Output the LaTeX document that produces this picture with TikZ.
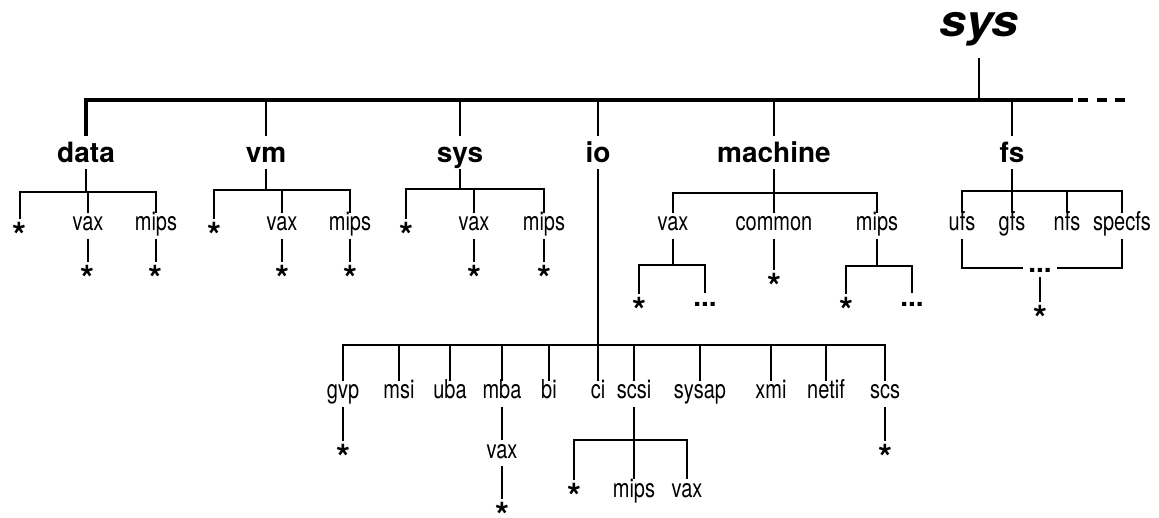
\documentclass[tikz,border=0pt]{standalone}
\usepackage{fontspec}
\setmainfont{TeX Gyre Heros}
\usepackage{graphicx}
\newcommand\tall[1]{\scalebox{1}[1.3]{#1}}
\newcommand\starglyph{\raisebox{-0.387em}[0.331em][0pt]{*}}
\begin{document}
\begin{tikzpicture}[x=1pt,y=-1pt,
  rootlabel/.style={font=\fontsize{44}{44}\selectfont\bfseries\itshape, anchor=base, inner sep=0pt, text depth=21pt},
  dirlabel/.style={font=\fontsize{28}{28}\selectfont\bfseries, anchor=base, inner sep=0pt, text height=27pt, text depth=6pt},
  sublabel/.style={font=\fontsize{20}{20}\selectfont, anchor=base, inner sep=0pt, text height=18pt, text depth=8pt},
  starlabel/.style={font=\fontsize{36}{36}\selectfont\bfseries, anchor=north, inner sep=0pt, inner ysep=3pt},
  morelabel/.style={font=\fontsize{28}{28}\selectfont\bfseries, anchor=base, inner sep=0pt, text height=14pt, text depth=0pt},
  link/.style={line width=1.9pt},
  stem/.style={line width=2.4pt},
  trunk/.style={line width=3.3pt}]
\useasboundingbox (0,0) rectangle (1159,518);

% root
\node[rootlabel] (root) at (979,37) {\scalebox{1.1}[1]{sys}};
\coordinate (mainend) at (1073,100);
\coordinate (dashend) at (1127,100);

% level 1
\node[dirlabel] (data) at (86,163) {data};
\node[dirlabel] (vm) at (266,163) {vm};
\node[dirlabel] (sys) at (460,163) {sys};
\node[dirlabel] (io) at (598,163) {io};
\node[dirlabel] (machine) at (774,163) {machine};
\node[dirlabel] (fs) at (1012,163) {fs};

\draw[trunk] (data.north) |- (mainend);
\draw[trunk, dash pattern=on 10pt off 8.5pt] ([xshift=5pt]mainend) -- (dashend);
\draw[link] (root.south) -- (root.south |- mainend);
\foreach \n in {vm,sys,io,machine,fs}
  \draw[stem] (\n.north) -- (\n.north |- mainend);

% data subtree
\coordinate (bdata) at (0,192);
\node[starlabel] (dstar) at (20,219) {\starglyph};
\node[sublabel] (dvax) at (88,231) {\tall{vax}};
\node[sublabel] (dmips) at (156,231) {\tall{mips}};
\node[starlabel] (dvaxs) at (88,262) {\starglyph};
\node[starlabel] (dmipss) at (156,262) {\starglyph};
\draw[link] (data.south) -- (data.south |- bdata);
\draw[link] (dstar.north) -- (dstar.north |- bdata) -| (dmips.north);
\draw[link] (dvax.north) -- (dvax.north |- bdata);
\draw[link] (dvax.south) -- (dvaxs.north);
\draw[link] (dmips.south) -- (dmipss.north);

% vm subtree
\coordinate (bvm) at (0,190);
\node[starlabel] (vstar) at (214,219) {\starglyph};
\node[sublabel] (vvax) at (282,231) {\tall{vax}};
\node[sublabel] (vmips) at (350,231) {\tall{mips}};
\node[starlabel] (vvaxs) at (282,262) {\starglyph};
\node[starlabel] (vmipss) at (350,262) {\starglyph};
\draw[link] (vm.south) -- (vm.south |- bvm);
\draw[link] (vstar.north) -- (vstar.north |- bvm) -| (vmips.north);
\draw[link] (vvax.north) -- (vvax.north |- bvm);
\draw[link] (vvax.south) -- (vvaxs.north);
\draw[link] (vmips.south) -- (vmipss.north);

% sys subtree
\coordinate (bsys) at (0,189);
\node[starlabel] (sstar) at (406,219) {\starglyph};
\node[sublabel] (svax) at (474,231) {\tall{vax}};
\node[sublabel] (smips) at (544,231) {\tall{mips}};
\node[starlabel] (svaxs) at (474,262) {\starglyph};
\node[starlabel] (smipss) at (544,262) {\starglyph};
\draw[link] (sys.south) -- (sys.south |- bsys);
\draw[link] (sstar.north) -- (sstar.north |- bsys) -| (smips.north);
\draw[link] (svax.north) -- (svax.north |- bsys);
\draw[link] (svax.south) -- (svaxs.north);
\draw[link] (smips.south) -- (smipss.north);

% machine subtree
\coordinate (bmach) at (0,193);
\node[sublabel] (mvax) at (673,231) {\tall{vax}};
\node[sublabel] (mcommon) at (774,231) {\tall{common}};
\node[sublabel] (mmips) at (877,231) {\tall{mips}};
\draw[link] (machine.south) -- (machine.south |- bmach);
\draw[link] (mvax.north) -- (mvax.north |- bmach) -| (mmips.north);
\draw[link] (mcommon.north) -- (mcommon.north |- bmach);
\coordinate (bmvax) at (0,265);
\node[starlabel] (mvaxs) at (639,294) {\starglyph};
\node[morelabel] (mvaxm) at (705,307) {...};
\draw[link] (mvax.south) -- (mvax.south |- bmvax);
\draw[link] (mvaxs.north) -- (mvaxs.north |- bmvax) -| (mvaxm.north);
\node[starlabel] (mcommons) at (774,270) {\starglyph};
\draw[link] (mcommon.south) -- (mcommons.north);
\coordinate (bmmips) at (0,266);
\node[starlabel] (mmipss) at (846,294) {\starglyph};
\node[morelabel] (mmipsm) at (912,307) {...};
\draw[link] (mmips.south) -- (mmips.south |- bmmips);
\draw[link] (mmipss.north) -- (mmipss.north |- bmmips) -| (mmipsm.north);

% fs subtree
\coordinate (bfs) at (0,191);
\node[sublabel] (ufs) at (962,231) {\tall{ufs}};
\node[sublabel] (gfs) at (1012,231) {\tall{gfs}};
\node[sublabel] (nfs) at (1067,231) {\tall{nfs}};
\node[sublabel] (specfs) at (1122,231) {\tall{specfs}};
\draw[link] (fs.south) -- (fs.south |- bfs);
\draw[link] (ufs.north) -- (ufs.north |- bfs) -| (specfs.north);
\draw[link] (gfs.north) -- (gfs.north |- bfs);
\draw[link] (nfs.north) -- (nfs.north |- bfs);
\node[morelabel, text height=14pt, text depth=4pt, inner xsep=5pt] (fsm) at (1040,273) {...};
\node[starlabel] (fss) at (1040,302) {\starglyph};
\draw[link] (ufs.south) |- (fsm.west);
\draw[link] (specfs.south) |- (fsm.east);
\draw[link] (fsm.south) -- (fss.north);

% io subtree
\coordinate (bio) at (0,345);
\node[sublabel] (gvp) at (343,399) {\tall{gvp}};
\node[sublabel] (msi) at (399,399) {\tall{msi}};
\node[sublabel] (uba) at (450,399) {\tall{uba}};
\node[sublabel] (mba) at (502,399) {\tall{mba}};
\node[sublabel] (bi) at (549,399) {\tall{bi}};
\node[sublabel] (ci) at (598,399) {\tall{ci}};
\node[sublabel] (scsi) at (634,399) {\tall{scsi}};
\node[sublabel] (sysap) at (700,399) {\tall{sysap}};
\node[sublabel] (xmi) at (771,399) {\tall{xmi}};
\node[sublabel] (netif) at (826,399) {\tall{netif}};
\node[sublabel] (scs) at (885,399) {\tall{scs}};
\draw[link] (io.south) -- (ci.north);
\draw[link] (gvp.north) -- (gvp.north |- bio) -| (scs.north);
\foreach \n in {msi,uba,mba,bi,scsi,sysap,xmi,netif}
  \draw[link] (\n.north) -- (\n.north |- bio);
\node[starlabel] (gvps) at (343,441) {\starglyph};
\draw[link] (gvp.south) -- (gvps.north);
\node[starlabel] (scss) at (885,441) {\starglyph};
\draw[link] (scs.south) -- (scss.north);
\node[sublabel] (mbavax) at (502,458) {\tall{vax}};
\node[starlabel] (mbavaxs) at (502,499) {\starglyph};
\draw[link] (mba.south) -- (mbavax.north);
\draw[link] (mbavax.south) -- (mbavaxs.north);
\coordinate (bscsi) at (0,440);
\node[starlabel] (scsis) at (574,480) {\starglyph};
\node[sublabel] (scsimips) at (634,497) {\tall{mips}};
\node[sublabel] (scsivax) at (687,497) {\tall{vax}};
\draw[link] (scsi.south) -- (scsimips.north);
\draw[link] (scsis.north) -- (scsis.north |- bscsi) -| (scsivax.north);
\end{tikzpicture}
\end{document}
